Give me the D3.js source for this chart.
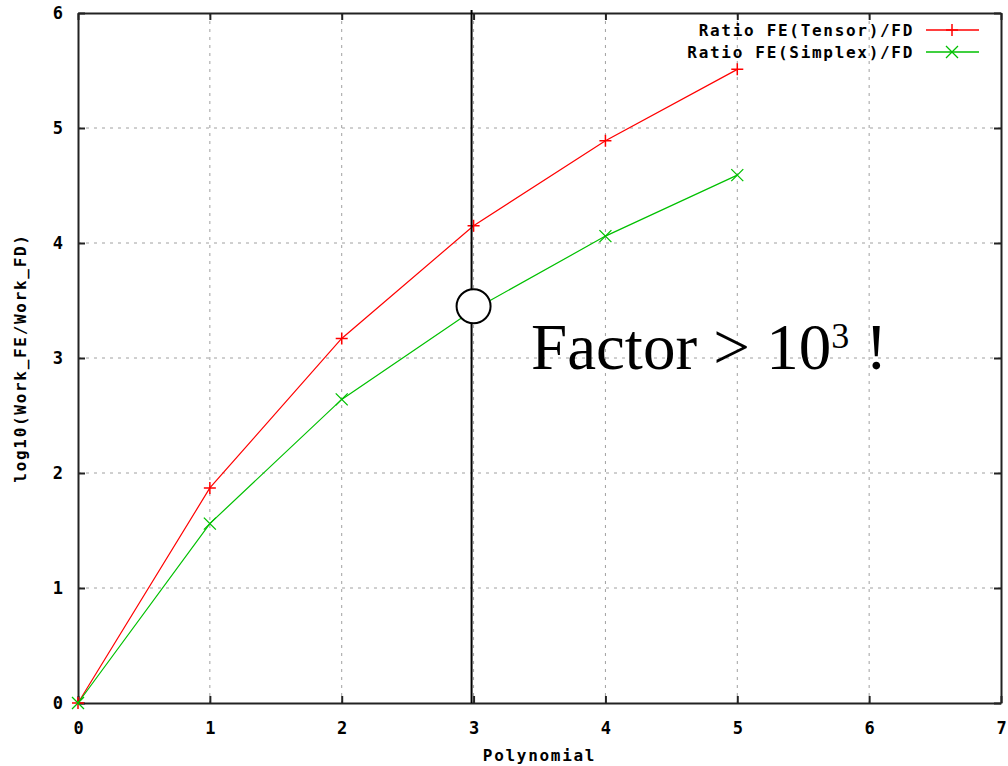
<!DOCTYPE html>
<html>
<head>
<meta charset="utf-8">
<script src="https://cdn.jsdelivr.net/npm/d3@7"></script>
<style>
  body { margin: 0; background: #fff; }
  text { font-family: "DejaVu Sans Mono", monospace; font-weight: bold; }
</style>
</head>
<body>
<svg width="1008" height="766"></svg>
<script>
const POLY = [0, 1, 2, 3, 4, 5];
const TENSOR = [0, 1.87, 3.17, 4.15, 4.89, 5.51];
const SIMPLEX = [0, 1.56, 2.64, 3.42, 4.06, 4.59];
const X_TICKS = [0, 1, 2, 3, 4, 5, 6, 7];
const Y_TICKS = [0, 1, 2, 3, 4, 5, 6];

const MARGINS = { left: 78, right: 7, top: 13, bottom: 63 };
const WIDTH = 1008 - MARGINS.left - MARGINS.right;
const HEIGHT = 766 - MARGINS.top - MARGINS.bottom;

const x = d3.scaleLinear().domain([0, 7]).range([0, WIDTH]);
const y = d3.scaleLinear().domain([0, 6]).range([HEIGHT, 0]);

const svg = d3.select('svg');
const chart = svg.append('g').attr('transform', `translate(${MARGINS.left},${MARGINS.top})`);

// grid
chart.selectAll('.vgrid').data(X_TICKS.slice(1, -1)).enter().append('line')
  .attr('x1', d => x(d)).attr('x2', d => x(d)).attr('y1', 0).attr('y2', HEIGHT)
  .attr('stroke', '#a0a0a0').attr('stroke-width', 1).attr('stroke-dasharray', '3,5');
chart.selectAll('.hgrid').data(Y_TICKS.slice(1, -1)).enter().append('line')
  .attr('y1', d => y(d)).attr('y2', d => y(d)).attr('x1', 0).attr('x2', WIDTH)
  .attr('stroke', '#a0a0a0').attr('stroke-width', 1).attr('stroke-dasharray', '3,5');

// axes (ticks inward, mirrored)
const fmt = d3.format('d');
const axBottom = chart.append('g').attr('transform', `translate(0,${HEIGHT})`)
  .call(d3.axisBottom(x).tickValues(X_TICKS).tickFormat(fmt).tickSizeInner(-7).tickSizeOuter(0).tickPadding(19));
const axTop = chart.append('g')
  .call(d3.axisTop(x).tickValues(X_TICKS).tickFormat('').tickSizeInner(-7).tickSizeOuter(0));
const axLeft = chart.append('g')
  .call(d3.axisLeft(y).tickValues(Y_TICKS).tickFormat(fmt).tickSizeInner(-7).tickSizeOuter(0).tickPadding(15));
const axRight = chart.append('g').attr('transform', `translate(${WIDTH},0)`)
  .call(d3.axisRight(y).tickValues(Y_TICKS).tickFormat('').tickSizeInner(-7).tickSizeOuter(0));
[axBottom, axTop, axLeft, axRight].forEach(a => {
  a.select('.domain').attr('stroke', '#222').attr('stroke-width', 2);
  a.selectAll('.tick line').attr('stroke', '#222').attr('stroke-width', 2);
  a.selectAll('.tick text').attr('fill', '#000').style('font-size', '17px')
    .style('font-family', '"DejaVu Sans Mono", monospace').style('font-weight', 'bold');
});

// axis labels
svg.append('text').attr('x', MARGINS.left + x(3.5)).attr('y', 761)
  .attr('text-anchor', 'middle').style('font-size', '16px').style('letter-spacing', '1.7px')
  .text('Polynomial');
svg.append('text').attr('transform', `translate(26,${MARGINS.top + y(3)}) rotate(-90)`)
  .attr('text-anchor', 'middle').style('font-size', '16px').style('letter-spacing', '1.7px')
  .text('log10(Work_FE/Work_FD)');

// series
const series = [
  { name: 'Ratio FE(Tensor)/FD', values: TENSOR, color: '#ff0000', mark: 'plus' },
  { name: 'Ratio FE(Simplex)/FD', values: SIMPLEX, color: '#00c000', mark: 'cross' },
];
const line = d3.line().x((d, i) => x(POLY[i])).y(d => y(d));

function marker(g, cx, cy, type, color) {
  const s = 6;
  if (type === 'plus') {
    g.append('path').attr('d', `M${cx - s},${cy}H${cx + s}M${cx},${cy - s}V${cy + s}`)
      .attr('stroke', color).attr('stroke-width', 1.5).attr('fill', 'none');
  } else {
    g.append('path').attr('d', `M${cx - s},${cy - s}L${cx + s},${cy + s}M${cx - s},${cy + s}L${cx + s},${cy - s}`)
      .attr('stroke', color).attr('stroke-width', 1.3).attr('fill', 'none');
  }
}

series.forEach((s, k) => {
  chart.append('path').datum(s.values).attr('d', line)
    .attr('fill', 'none').attr('stroke', s.color).attr('stroke-width', 1.2);
  s.values.forEach((v, i) => marker(chart, x(POLY[i]), y(v), s.mark, s.color));

  const ly = 30 + k * 22;
  svg.append('text').attr('x', 914).attr('y', ly + 6).attr('text-anchor', 'end')
    .style('font-size', '16px').style('letter-spacing', '1.7px').text(s.name);
  svg.append('line').attr('x1', 926).attr('x2', 979).attr('y1', ly).attr('y2', ly)
    .attr('stroke', s.color).attr('stroke-width', 1.3);
  marker(svg, 952, ly, s.mark, s.color);
});

// annotation: vertical line at p=3 with circle
chart.append('line').attr('x1', x(3) - 2).attr('x2', x(3) - 2).attr('y1', -3).attr('y2', HEIGHT)
  .attr('stroke', '#000').attr('stroke-width', 2);
chart.append('circle').attr('cx', x(3)).attr('cy', y(3.45)).attr('r', 17)
  .attr('fill', '#fff').attr('stroke', '#000').attr('stroke-width', 2);

const note = svg.append('text').attr('x', 531).attr('y', 369)
  .style('font-family', '"Liberation Serif", "Times New Roman", serif')
  .style('font-weight', 'normal').style('font-size', '65px').attr('fill', '#000');
note.append('tspan').text('Factor > 10');
note.append('tspan').attr('dy', -21).style('font-size', '36px').text('3');
note.append('tspan').attr('dy', 21).text(' !');
</script>
</body>
</html>
